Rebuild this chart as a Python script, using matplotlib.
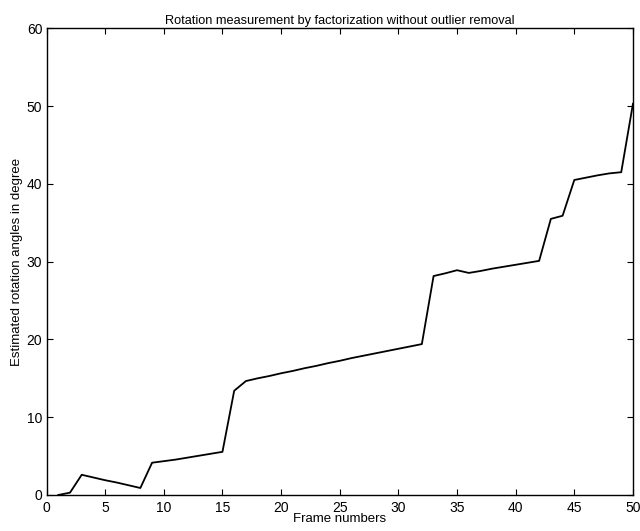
import matplotlib
matplotlib.use("Agg")
import matplotlib.pyplot as plt

# estimated rotation angle per frame
frames = list(range(1, 51))
angles = [0.0, 0.3, 2.6, 2.25, 1.9, 1.6, 1.25, 0.9, 4.15, 4.35,
          4.55, 4.8, 5.05, 5.3, 5.55, 13.4, 14.65, 15.0, 15.3, 15.65,
          15.95, 16.3, 16.6, 16.95, 17.25, 17.6, 17.9, 18.2, 18.5, 18.8,
          19.1, 19.4, 28.15, 28.5, 28.9, 28.55, 28.8, 29.1, 29.35, 29.6,
          29.85, 30.1, 35.5, 35.9, 40.5, 40.8, 41.1, 41.35, 41.5, 50.3]

xticks = [0, 5, 10, 15, 20, 25, 30, 35, 40, 45, 50]
yticks = [0, 10, 20, 30, 40, 50, 60]

plt.rcParams["font.family"] = ["Liberation Sans", "DejaVu Sans"]

fig = plt.figure(figsize=(6.4, 5.31), dpi=100)
ax = fig.add_axes([0.0727, 0.0678, 0.9163, 0.8789])
ax.plot(frames, angles, color="black", lw=1.3)

ax.set_xlim(0, 50)
ax.set_ylim(0, 60)
ax.set_xticks(xticks)
ax.set_yticks(yticks)
ax.tick_params(direction="in", top=True, right=True, length=4, width=0.8,
               labelsize=10)
ax.tick_params(axis="x", pad=4)
ax.tick_params(axis="y", pad=3)
for s in ax.spines.values():
    s.set_linewidth(1.0)

ax.set_title("Rotation measurement by factorization without outlier removal",
             fontsize=9.2, pad=3)
ax.set_xlabel("Frame numbers", fontsize=9.5, labelpad=-1)
ax.set_ylabel("Estimated rotation angles in degree", fontsize=9.5, labelpad=3)

fig.savefig("out.png", dpi=100)
